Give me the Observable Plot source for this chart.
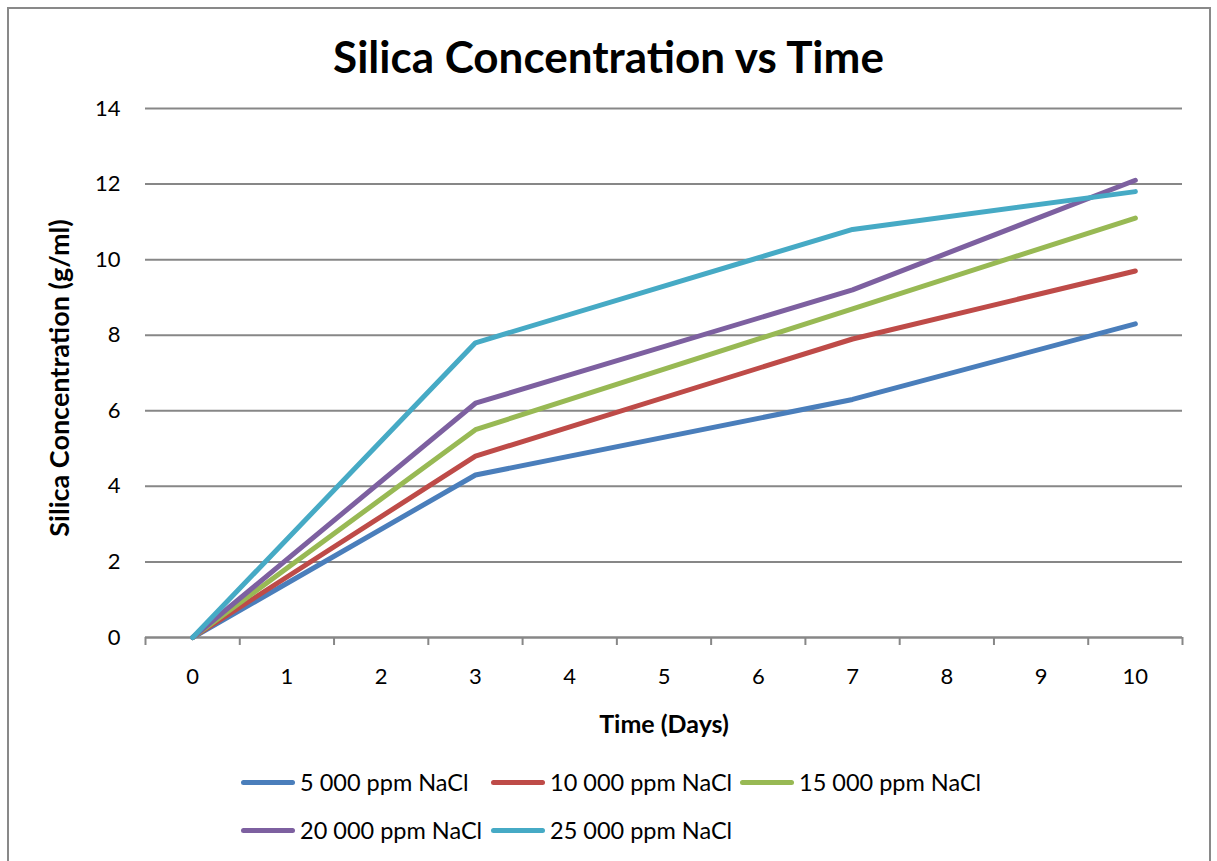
<!DOCTYPE html>
<html>
<head>
<meta charset="utf-8">
<script src="https://cdn.jsdelivr.net/npm/d3@7"></script>
<script src="https://cdn.jsdelivr.net/npm/@observablehq/plot@0.6"></script>
<style>
  body { margin: 0; background: #fff; font-family: Lato, "Open Sans", sans-serif; }
  #wrap { position: relative; width: 1217px; height: 861px; overflow: hidden; background: #fff; }
  #frame { position: absolute; left: 7px; top: 7px; width: 1204px; height: 900px; border: 2px solid #898989; box-sizing: border-box; }
  #title { position: absolute; left: 0; top: 34px; width: 1217px; text-align: center; font-weight: 700; font-size: 44px; line-height: 1; color: #000; }
  #chart { position: absolute; left: 0; top: 0; }
  #legend { position: absolute; left: 241px; top: 758px; display: grid; grid-template-columns: 250px 249px auto; grid-auto-rows: 48px; font-size: 23.5px; color: #000; }
  .item { display: flex; align-items: center; white-space: nowrap; }
  .sw { width: 54px; height: 5px; border-radius: 3px; margin-right: 5px; }
</style>
</head>
<body>
<div id="wrap">
  <div id="frame"></div>
  <div id="chart"></div>
  <div id="title"></div>
  <div id="legend"></div>
</div>
<script>
const chartTitle = "Silica Concentration vs Time";
const xTitle = "Time (Days)";
const yTitle = "Silica Concentration (g/ml)";
const xTicks = [0, 1, 2, 3, 4, 5, 6, 7, 8, 9, 10];
const yTicks = [0, 2, 4, 6, 8, 10, 12, 14];
const days = [0, 3, 7, 10];
const seriesNames = ["5 000 ppm NaCl", "10 000 ppm NaCl", "15 000 ppm NaCl", "20 000 ppm NaCl", "25 000 ppm NaCl"];
const conc5000 = [0, 4.3, 6.3, 8.3];
const conc10000 = [0, 4.8, 7.9, 9.7];
const conc15000 = [0, 5.5, 8.7, 11.1];
const conc20000 = [0, 6.2, 9.2, 12.1];
const conc25000 = [0, 7.8, 10.8, 11.8];
const seriesColors = ["#4A7EBB", "#BE4B48", "#98B954", "#7D60A0", "#46AAC5"];

const allSeries = [conc5000, conc10000, conc15000, conc20000, conc25000];
const data = allSeries.flatMap((vals, i) => vals.map((v, j) => ({day: days[j], value: v, series: seriesNames[i]})));
const boundaries = xTicks.concat([xTicks[xTicks.length - 1] + 1]).map(d => d - 0.5);

const plot = Plot.plot({
  width: 1217,
  height: 861,
  marginTop: 108,
  marginBottom: 224,
  marginLeft: 145,
  marginRight: 35,
  style: {fontFamily: "Lato, 'Open Sans', sans-serif", fontSize: "22px", color: "#000", background: "transparent", overflow: "visible"},
  x: {domain: [boundaries[0], boundaries[boundaries.length - 1]]},
  y: {domain: [yTicks[0], yTicks[yTicks.length - 1]]},
  color: {domain: seriesNames, range: seriesColors},
  marks: [
    Plot.gridY(yTicks, {stroke: "#878787", strokeOpacity: 1, strokeWidth: 2}),
    Plot.axisY(yTicks, {tickSize: 0, tickPadding: 25, label: null, fill: "#000"}),
    Plot.axisX(xTicks, {tickSize: 0, tickPadding: 31, label: null, fill: "#000"}),
    Plot.axisX(boundaries, {tickSize: 8, tickFormat: () => "", stroke: "#878787", strokeWidth: 2, label: null}),
    Plot.ruleY([0], {stroke: "#878787", strokeWidth: 2}),
    Plot.text([yTitle], {frameAnchor: "left", textAnchor: "middle", dx: -85, dy: 5, rotate: -90, fontWeight: "bold", fontSize: 27, fill: "#000"}),
    Plot.text([xTitle], {frameAnchor: "bottom", dy: 95, fontWeight: "bold", fontSize: 25, fill: "#000"}),
    Plot.line(data, {x: "day", y: "value", z: "series", stroke: "series", strokeWidth: 5, strokeLinecap: "round", strokeLinejoin: "round"})
  ]
});
document.getElementById("chart").appendChild(plot);
document.getElementById("title").textContent = chartTitle;

const legend = document.getElementById("legend");
seriesNames.forEach((name, i) => {
  const item = document.createElement("div");
  item.className = "item";
  const sw = document.createElement("div");
  sw.className = "sw";
  sw.style.background = seriesColors[i];
  const label = document.createElement("span");
  label.textContent = name;
  item.appendChild(sw);
  item.appendChild(label);
  legend.appendChild(item);
});
</script>
</body>
</html>
